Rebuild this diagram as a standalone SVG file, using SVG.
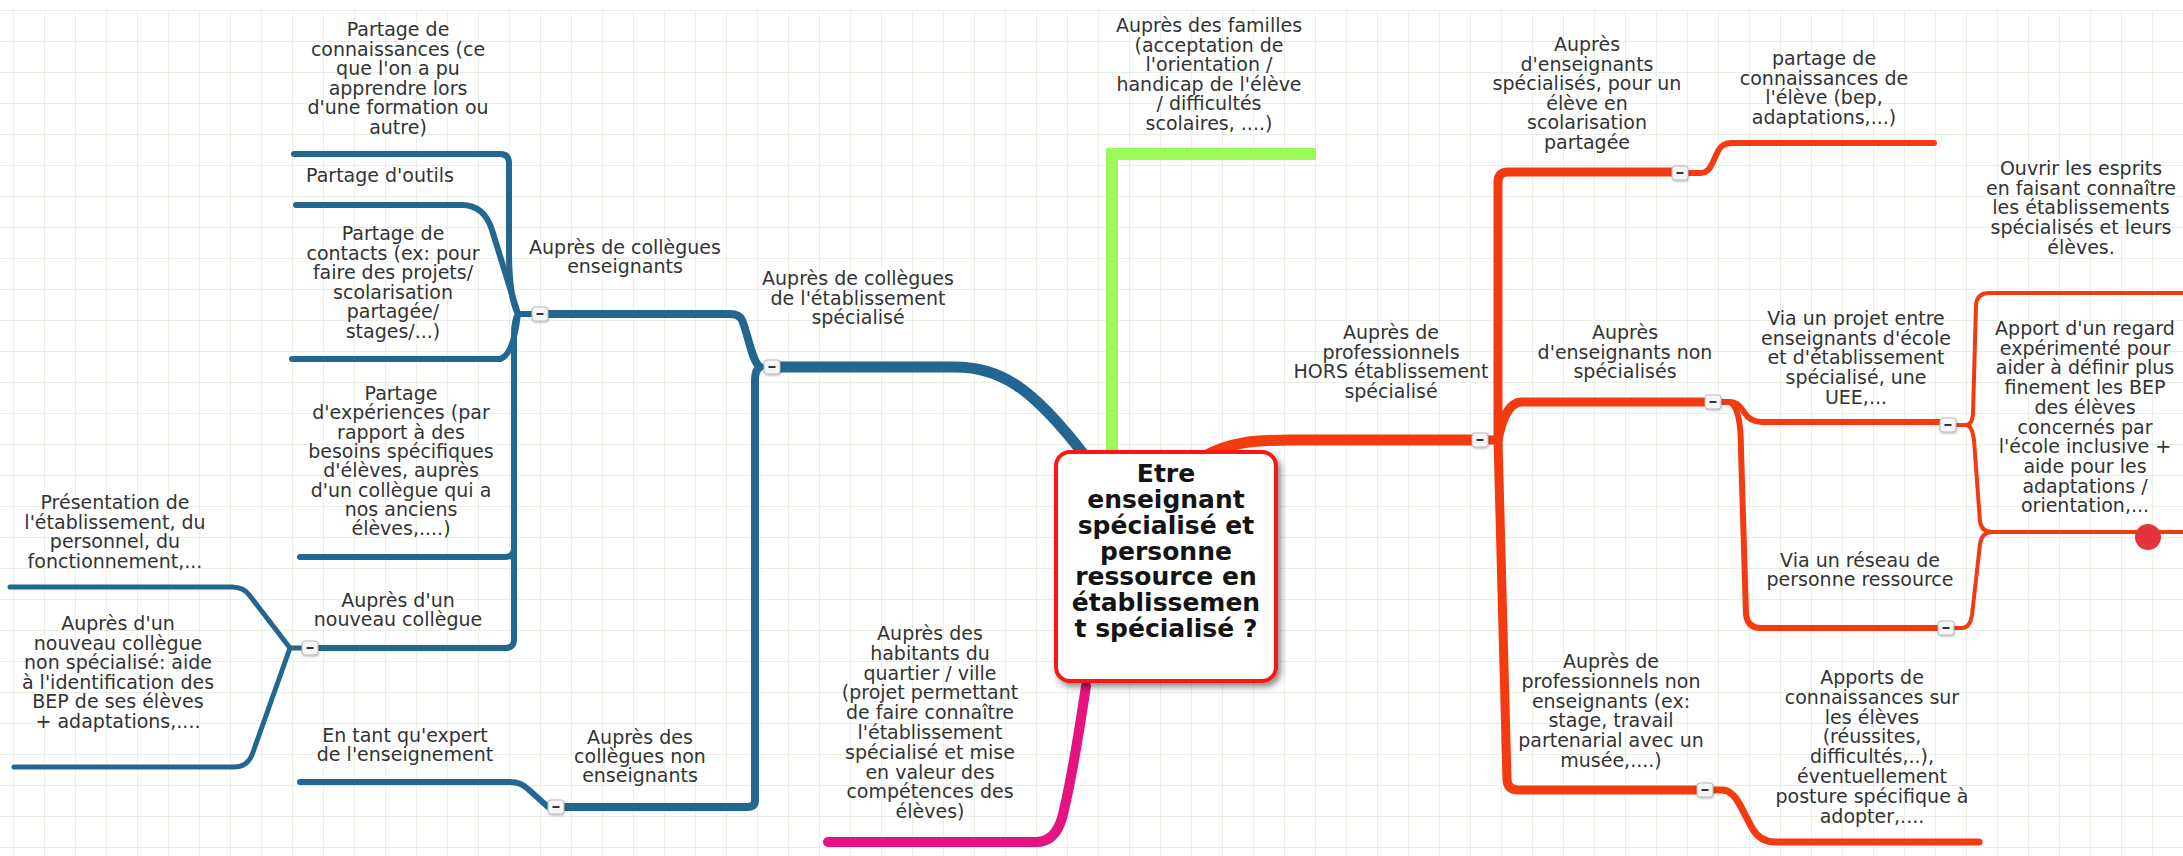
<svg xmlns="http://www.w3.org/2000/svg" width="2183" height="856" viewBox="0 0 2183 856">
<defs>
<pattern id="grid" x="13" y="10" width="31" height="31" patternUnits="userSpaceOnUse">
<path d="M 0 0 H 31 M 0 0 V 31" fill="none" stroke="#e1eada" stroke-width="1.3"/>
</pattern>
<filter id="shadow" x="-20%" y="-20%" width="140%" height="140%">
<feDropShadow dx="3" dy="4" stdDeviation="3" flood-color="#000" flood-opacity="0.45"/>
</filter>
<filter id="bshadow" x="-30%" y="-30%" width="160%" height="160%">
<feDropShadow dx="0.5" dy="1" stdDeviation="0.8" flood-color="#000" flood-opacity="0.3"/>
</filter>
<g id="btn">
<rect x="-8" y="-7" width="16" height="14" rx="3" fill="#f6f6f6" stroke="#b9b9b9" stroke-width="1" filter="url(#bshadow)"/>
<rect x="-3.5" y="-1" width="7" height="2" fill="#333"/>
</g>
</defs>
<style>
text { font-family: "DejaVu Sans", Verdana, sans-serif; font-size: 19px; fill: #333333; text-anchor: middle; }
.root text { font-weight: bold; font-size: 25px; fill: #141414; }
.c { fill: none; stroke-linecap: round; stroke-linejoin: round; }
.blue { stroke: #236790; }
.red { stroke: #f43a0f; }
</style>
<rect x="0" y="0" width="2183" height="856" fill="#ffffff"/>
<rect x="0" y="10" width="2183" height="846" fill="url(#grid)"/>

<g id="connectors">
<!-- blue -->
<path class="c blue" stroke-width="11" d="M 780 367 H 955 C 1000 367, 1032 387, 1085 456"/>
<path class="c blue" stroke-width="8" d="M 760 367 C 752 362, 748 334, 742 320 Q 739 314, 730 314 H 548"/>
<path class="c blue" stroke-width="8" d="M 760 367 Q 755 370, 755 380 V 800 Q 755 807, 747 807 H 564"/>
<path class="c blue" stroke-width="6" d="M 532 314 H 518 C 511 300, 509 280, 509 250 V 163 Q 509 154, 500 154 H 294"/>
<path class="c blue" stroke-width="6" d="M 518 314 L 492 230 Q 484 205, 462 205 H 296"/>
<path class="c blue" stroke-width="6" d="M 518 314 Q 513 356, 500 359 H 292"/>
<path class="c blue" stroke-width="6" d="M 518 314 Q 514 320, 514 335 V 548 Q 514 557, 505 557 H 300"/>
<path class="c blue" stroke-width="6" d="M 514 540 V 640 Q 514 648, 505 648 H 318"/>
<path class="c blue" stroke-width="5" d="M 302 648 H 290 L 250 596 Q 244 587, 232 587 H 10"/>
<path class="c blue" stroke-width="5" d="M 290 648 L 252 755 Q 247 767, 234 767 H 14"/>
<path class="c blue" stroke-width="6" d="M 548 807 L 528 789 Q 521 782, 510 782 H 300"/>
<!-- pink -->
<path class="c" stroke="#e5137f" stroke-width="10" d="M 828 842 H 1036 Q 1055 842, 1062 818 C 1072 780, 1080 725, 1086 686"/>
<!-- green -->
<path fill="none" stroke="#9afa57" stroke-width="12" d="M 1316 154 H 1112 V 452"/>
<!-- red -->
<path class="c red" stroke-width="11" d="M 1205 456 C 1228 443, 1252 440, 1292 440 H 1472"/>
<path class="c red" stroke-width="9" d="M 1488 440 H 1498 V 182 Q 1498 172, 1508 172 H 1672"/>
<path class="c red" stroke-width="9" d="M 1498 440 L 1507 780 Q 1508 790, 1518 790 H 1697"/>
<path class="c red" stroke-width="9" d="M 1498 440 C 1502 420, 1508 402, 1522 402 H 1705"/>
<path class="c red" stroke-width="6" d="M 1688 173 H 1701 Q 1708 173, 1712 164 L 1718 151 Q 1722 143, 1732 143 H 1934"/>
<path class="c red" stroke-width="6" d="M 1721 402 H 1730 Q 1738 402, 1744 412 Q 1750 422, 1762 422 H 1940"/>
<path class="c red" stroke-width="6" d="M 1730 402 C 1738 406, 1741 425, 1741 450 L 1746 615 Q 1748 628, 1760 628 H 1938"/>
<path class="c red" stroke-width="7" d="M 1713 790 H 1722 Q 1732 790, 1740 805 L 1752 828 Q 1760 842, 1775 842 H 1979"/>
<path class="c red" stroke-width="4" d="M 1956 425 H 1966 Q 1972 425, 1973 414 L 1976 305 Q 1977 293, 1989 293 H 2185"/>
<path class="c red" stroke-width="4" d="M 1966 425 Q 1972 425, 1974 440 L 1980 522 Q 1982 532, 1992 532 H 2185"/>
<path class="c red" stroke-width="4" d="M 1954 628 H 1962 Q 1970 628, 1972 615 L 1980 544 Q 1982 532, 1992 532"/>
</g>

<g id="root" class="root">
<rect x="1056" y="452" width="220" height="229" rx="14" fill="#ffffff" stroke="#fb1616" stroke-width="4" filter="url(#shadow)"/>
<text x="1166" y="482">Etre</text>
<text x="1166" y="508">enseignant</text>
<text x="1166" y="534">spécialisé et</text>
<text x="1166" y="560">personne</text>
<text x="1166" y="585">ressource en</text>
<text x="1166" y="611">établissemen</text>
<text x="1166" y="637">t spécialisé ?</text>
</g>

<g id="n-colleg-etab">
<text x="858" y="285">Auprès de collègues</text>
<text x="858" y="305">de l'établissement</text>
<text x="858" y="324">spécialisé</text>
<use href="#btn" x="772" y="367"/>
</g>
<g id="n-colleg-ens">
<text x="625" y="254">Auprès de collègues</text>
<text x="625" y="273">enseignants</text>
<use href="#btn" x="540" y="314"/>
</g>
<g id="n-partage-conn">
<text x="398" y="36">Partage de</text>
<text x="398" y="55.5">connaissances (ce</text>
<text x="398" y="75">que l'on a pu</text>
<text x="398" y="94.5">apprendre lors</text>
<text x="398" y="114">d'une formation ou</text>
<text x="398" y="133.5">autre)</text>
</g>
<g id="n-outils">
<text x="380" y="182">Partage d'outils</text>
</g>
<g id="n-contacts">
<text x="393" y="240">Partage de</text>
<text x="393" y="259.5">contacts (ex: pour</text>
<text x="393" y="279">faire des projets/</text>
<text x="393" y="298.5">scolarisation</text>
<text x="393" y="318">partagée/</text>
<text x="393" y="337.5">stages/...)</text>
</g>
<g id="n-experiences">
<text x="401" y="400">Partage</text>
<text x="401" y="419.3">d'expériences (par</text>
<text x="401" y="438.6">rapport à des</text>
<text x="401" y="457.9">besoins spécifiques</text>
<text x="401" y="477.2">d'élèves, auprès</text>
<text x="401" y="496.5">d'un collègue qui a</text>
<text x="401" y="515.8">nos anciens</text>
<text x="401" y="535.1">élèves,....)</text>
</g>
<g id="n-nouveau">
<text x="398" y="607">Auprès d'un</text>
<text x="398" y="626">nouveau collègue</text>
<use href="#btn" x="310" y="648"/>
</g>
<g id="n-presentation">
<text x="115" y="509">Présentation de</text>
<text x="115" y="528.5">l'établissement, du</text>
<text x="115" y="548">personnel, du</text>
<text x="115" y="567.5">fonctionnement,...</text>
</g>
<g id="n-nouveau-nonspe">
<text x="118" y="630">Auprès d'un</text>
<text x="118" y="649.6">nouveau collègue</text>
<text x="118" y="669.2">non spécialisé: aide</text>
<text x="118" y="688.8">à l'identification des</text>
<text x="118" y="708.4">BEP de ses élèves</text>
<text x="118" y="728">+ adaptations,....</text>
</g>
<g id="n-colleg-nonens">
<text x="640" y="744">Auprès des</text>
<text x="640" y="763">collègues non</text>
<text x="640" y="782">enseignants</text>
<use href="#btn" x="556" y="807"/>
</g>
<g id="n-expert">
<text x="405" y="742">En tant qu'expert</text>
<text x="405" y="761">de l'enseignement</text>
</g>

<g id="n-habitants">
<text x="930" y="640">Auprès des</text>
<text x="930" y="659.8">habitants du</text>
<text x="930" y="679.6">quartier / ville</text>
<text x="930" y="699.4">(projet permettant</text>
<text x="930" y="719.2">de faire connaître</text>
<text x="930" y="739">l'établissement</text>
<text x="930" y="758.8">spécialisé et mise</text>
<text x="930" y="778.6">en valeur des</text>
<text x="930" y="798.4">compétences des</text>
<text x="930" y="818.2">élèves)</text>
</g>

<g id="n-familles">
<text x="1209" y="32">Auprès des familles</text>
<text x="1209" y="51.6">(acceptation de</text>
<text x="1209" y="71.2">l'orientation /</text>
<text x="1209" y="90.8">handicap de l'élève</text>
<text x="1209" y="110.4">/ difficultés</text>
<text x="1209" y="130">scolaires, ....)</text>
</g>

<g id="n-hors">
<text x="1391" y="339">Auprès de</text>
<text x="1391" y="358.7">professionnels</text>
<text x="1391" y="378.4">HORS établissement</text>
<text x="1391" y="398">spécialisé</text>
<use href="#btn" x="1480" y="440"/>
</g>
<g id="n-ens-spe">
<text x="1587" y="51">Auprès</text>
<text x="1587" y="70.6">d'enseignants</text>
<text x="1587" y="90.2">spécialisés, pour un</text>
<text x="1587" y="109.8">élève en</text>
<text x="1587" y="129.4">scolarisation</text>
<text x="1587" y="149">partagée</text>
<use href="#btn" x="1680" y="173"/>
</g>
<g id="n-partage-eleve">
<text x="1824" y="65">partage de</text>
<text x="1824" y="84.7">connaissances de</text>
<text x="1824" y="104.4">l'élève (bep,</text>
<text x="1824" y="124">adaptations,...)</text>
</g>
<g id="n-ens-nonspe">
<text x="1625" y="339">Auprès</text>
<text x="1625" y="358.7">d'enseignants non</text>
<text x="1625" y="378.4">spécialisés</text>
<use href="#btn" x="1713" y="402"/>
</g>
<g id="n-projet">
<text x="1856" y="325">Via un projet entre</text>
<text x="1856" y="344.7">enseignants d'école</text>
<text x="1856" y="364.4">et d'établissement</text>
<text x="1856" y="384.1">spécialisé, une</text>
<text x="1856" y="403.8">UEE,...</text>
<use href="#btn" x="1948" y="425"/>
</g>
<g id="n-reseau">
<text x="1860" y="567">Via un réseau de</text>
<text x="1860" y="586">personne ressource</text>
<use href="#btn" x="1946" y="628"/>
</g>
<g id="n-ouvrir">
<text x="2081" y="175">Ouvrir les esprits</text>
<text x="2081" y="194.7">en faisant connaître</text>
<text x="2081" y="214.4">les établissements</text>
<text x="2081" y="234.1">spécialisés et leurs</text>
<text x="2081" y="253.8">élèves.</text>
</g>
<g id="n-apport">
<text x="2085" y="335">Apport d'un regard</text>
<text x="2085" y="354.7">expérimenté pour</text>
<text x="2085" y="374.4">aider à définir plus</text>
<text x="2085" y="394.1">finement les BEP</text>
<text x="2085" y="413.8">des élèves</text>
<text x="2085" y="433.5">concernés par</text>
<text x="2085" y="453.2">l'école inclusive +</text>
<text x="2085" y="472.9">aide pour les</text>
<text x="2085" y="492.6">adaptations /</text>
<text x="2085" y="512.3">orientation,...</text>
<circle cx="2148" cy="537" r="13" fill="#e5333d"/>
</g>
<g id="n-pro-nonens">
<text x="1611" y="668">Auprès de</text>
<text x="1611" y="687.8">professionnels non</text>
<text x="1611" y="707.6">enseignants (ex:</text>
<text x="1611" y="727.4">stage, travail</text>
<text x="1611" y="747.2">partenarial avec un</text>
<text x="1611" y="767">musée,....)</text>
<use href="#btn" x="1705" y="790"/>
</g>
<g id="n-apports-conn">
<text x="1872" y="684">Apports de</text>
<text x="1872" y="703.8">connaissances sur</text>
<text x="1872" y="723.6">les élèves</text>
<text x="1872" y="743.4">(réussites,</text>
<text x="1872" y="763.2">difficultés,..),</text>
<text x="1872" y="783">éventuellement</text>
<text x="1872" y="802.8">posture spécifique à</text>
<text x="1872" y="822.6">adopter,....</text>
</g>
</svg>
